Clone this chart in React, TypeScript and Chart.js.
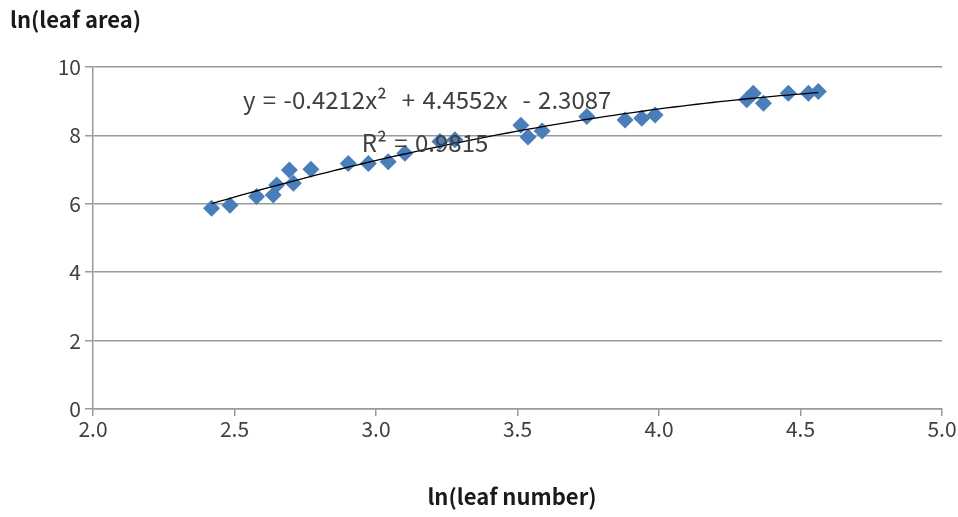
import React, { useEffect, useRef } from "react";
import { Chart, registerables } from "chart.js";

Chart.register(...registerables);

// ln(leaf number) values of the observations
const lnLeafNumber = [
  2.419, 2.484, 2.578, 2.637, 2.649, 2.694, 2.708, 2.77, 2.902, 2.973, 3.043, 3.102,
  3.226, 3.279, 3.512, 3.537, 3.587, 3.745, 3.88, 3.939, 3.986, 4.31, 4.333, 4.369,
  4.457, 4.528, 4.563,
];
// ln(leaf area) values of the observations
const lnLeafArea = [
  5.87, 5.96, 6.21, 6.26, 6.55, 6.99, 6.6, 7.01, 7.18, 7.18, 7.23, 7.48,
  7.82, 7.87, 8.3, 7.95, 8.13, 8.55, 8.45, 8.5, 8.6, 9.04, 9.23, 8.94,
  9.23, 9.23, 9.28,
];
// polynomial trend line shown in the chart: a*x^2 + b*x + c
const trendCoefficients = [-0.4212, 4.4552, -2.3087];
const xTickValues = [2.0, 2.5, 3.0, 3.5, 4.0, 4.5, 5.0];
const yTickValues = [0, 2, 4, 6, 8, 10];
const equationLabel = "y = -0.4212x²  + 4.4552x  - 2.3087";
const r2Label = "R² = 0.9815";
const xAxisTitle = "ln(leaf number)";
const yAxisTitle = "ln(leaf area)";

const FONT = "'Noto Sans CJK KR', 'Noto Sans', sans-serif";

export default function App() {
  const ref = useRef<HTMLCanvasElement | null>(null);

  useEffect(() => {
    if (!ref.current) return;
    const points = lnLeafNumber.map((x, i) => ({ x, y: lnLeafArea[i] }));
    const xMin = Math.min(...lnLeafNumber);
    const xMax = Math.max(...lnLeafNumber);
    const [a, b, c] = trendCoefficients;
    const trend: { x: number; y: number }[] = [];
    const steps = 80;
    for (let i = 0; i <= steps; i++) {
      const x = xMin + ((xMax - xMin) * i) / steps;
      trend.push({ x, y: a * x * x + b * x + c });
    }

    const textPlugin = {
      id: "texts",
      afterDatasetsDraw(chart: any) {
        const ctx = chart.ctx;
        const xs = chart.scales.x;
        const ys = chart.scales.y;
        ctx.save();
        ctx.fillStyle = "#404040";
        ctx.font = `24px ${FONT}`;
        ctx.textBaseline = "middle";
        ctx.textAlign = "left";
        try {
          (ctx as any).wordSpacing = "2px";
        } catch (e) {}
        ctx.fillText(equationLabel, xs.getPixelForValue(2.53), ys.getPixelForValue(9.03));
        ctx.fillText(r2Label, xs.getPixelForValue(2.95), ys.getPixelForValue(7.78));
        ctx.restore();
      },
      afterDraw(chart: any) {
        const ctx = chart.ctx;
        ctx.save();
        ctx.fillStyle = "#1a1a1a";
        ctx.font = `bold 22px ${FONT}`;
        ctx.textBaseline = "middle";
        ctx.textAlign = "left";
        ctx.fillText(yAxisTitle, 10, 20);
        ctx.textAlign = "center";
        ctx.fillText(xAxisTitle, 512, 497);
        ctx.restore();
      },
    };

    const chart = new Chart(ref.current, {
      type: "scatter",
      data: {
        datasets: [
          {
            type: "line",
            data: trend,
            borderColor: "#000000",
            borderWidth: 1.3,
            pointRadius: 0,
            fill: false,
            tension: 0,
            order: 0,
          } as any,
          {
            data: points,
            pointStyle: "rectRot",
            pointRadius: 8.5,
            pointBackgroundColor: "#4A7EBB",
            pointBorderColor: "#4A7EBB",
            pointBorderWidth: 0,
            order: 1,
          },
        ],
      },
      options: {
        animation: false,
        responsive: false,
        layout: { padding: { top: 67, right: 16, left: 0, bottom: 0 } },
        plugins: { legend: { display: false }, tooltip: { enabled: false }, title: { display: false } },
        scales: {
          x: {
            type: "linear",
            min: 2,
            max: 5,
            afterBuildTicks: (s: any) => {
              s.ticks = xTickValues.map((v) => ({ value: v }));
            },
            afterFit: (s: any) => {
              s.height = 108;
            },
            ticks: {
              callback: (v: any) => Number(v).toFixed(1),
              color: "#404040",
              font: { family: FONT, size: 21 },
              padding: 0,
              maxRotation: 0,
            },
            grid: {
              drawOnChartArea: false,
              drawTicks: true,
              tickLength: 7,
              color: "#9a9a9a",
              lineWidth: 1.5,
            },
            border: { display: true, color: "#9a9a9a", width: 1.5 },
          },
          y: {
            type: "linear",
            min: 0,
            max: 10,
            afterBuildTicks: (s: any) => {
              s.ticks = yTickValues.map((v) => ({ value: v }));
            },
            afterFit: (s: any) => {
              s.width = 93;
            },
            ticks: {
              color: "#404040",
              font: { family: FONT, size: 21 },
              padding: 4,
            },
            grid: {
              drawOnChartArea: true,
              drawTicks: true,
              tickLength: 8,
              color: "#9a9a9a",
              lineWidth: 1.5,
            },
            border: { display: true, color: "#9a9a9a", width: 1.5 },
          },
        },
      },
      plugins: [textPlugin],
    });
    return () => chart.destroy();
  }, []);

  return (
    <div style={{ position: "fixed", left: 0, top: 0, width: 958, height: 517, background: "#ffffff" }}>
      <canvas ref={ref} width={958} height={517} style={{ width: 958, height: 517, display: "block" }} />
    </div>
  );
}
